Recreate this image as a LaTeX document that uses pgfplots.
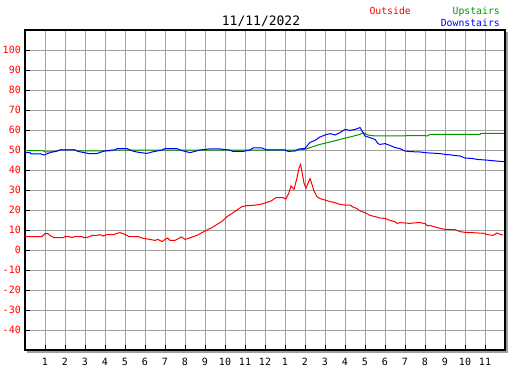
\documentclass[border=0pt]{standalone}
\usepackage{pgfplots}
\pgfplotsset{compat=1.18}
\usepackage{fontspec}
\setmainfont{DejaVu Sans Mono}
\definecolor{gridgray}{RGB}{160,160,160}
\definecolor{dgreen}{RGB}{0,150,0}
\begin{document}
\begin{tikzpicture}[x=1pt,y=1pt]
\useasboundingbox (0,0) rectangle (527,370);
\fill[gridgray] (27,17.5) rectangle (507.5,338);
\begin{axis}[at={(25pt,20pt)}, anchor=south west, scale only axis,
  width=480pt, height=320pt,
  xmin=0, xmax=24, ymin=-50, ymax=110,
  axis background/.style={fill=white},
  axis line style={black, line width=1.2pt},
  xtick={1,2,3,4,5,6,7,8,9,10,11,12,13,14,15,16,17,18,19,20,21,22,23},
  xticklabels={1,2,3,4,5,6,7,8,9,10,11,12,1,2,3,4,5,6,7,8,9,10,11},
  ytick={-40,-30,-20,-10,0,10,20,30,40,50,60,70,80,90,100},
  yticklabels={-40,-30,-20,-10,0,10,20,30,40,50,60,70,80,90,100},
  grid=major, major grid style={gridgray, line width=0.9pt},
  tick align=inside, xtick pos=bottom, ytick pos=left,
  major tick length=5pt, tick style={black, line width=0.9pt},
  yticklabel style={text=red, font=\fontsize{10}{12}\selectfont, inner sep=0pt, xshift=-4pt},
  xticklabel style={text=black, font=\fontsize{10}{12}\selectfont, inner sep=0pt, yshift=-8pt},
]
% Outside
\addplot[red, line width=1pt, no marks] coordinates {
(0,6.7)(0.85,6.7)(1,8.2)(1.15,8.2)(1.25,7.3)(1.45,6.2)(1.9,6.2)(2,6.7)(2.2,6.7)(2.35,6.2)(2.5,6.7)(2.85,6.7)(2.95,6.2)(3.15,6.4)(3.35,7.3)(3.6,7.3)(3.75,7.7)(3.9,7.0)(4.1,7.7)(4.45,7.7)(4.55,8.2)(4.75,8.7)(5,7.8)(5.2,6.7)(5.65,6.7)(5.85,6.0)(6,5.7)(6.25,5.3)(6.5,4.8)(6.65,5.3)(6.85,4.2)(7,5.3)(7.13,6.0)(7.25,4.8)(7.5,4.8)(7.67,5.7)(7.83,6.5)(8,5.3)(8.17,5.8)(8.35,6.5)(8.6,7.3)(8.85,8.7)(9.1,10)(9.35,11.2)(9.6,12.8)(9.85,14.3)(10.1,16.7)(10.35,18.3)(10.6,20)(10.85,21.7)(11.1,22.2)(11.4,22.3)(11.75,22.8)(12,23.5)(12.3,24.5)(12.55,26.2)(12.9,26.2)(13.05,25.5)(13.2,28.7)(13.3,32)(13.45,30.3)(13.6,36)(13.7,41)(13.78,42.8)(13.85,39)(13.95,33.5)(14.05,30.8)(14.15,33.5)(14.25,35.7)(14.35,32.8)(14.45,29.5)(14.6,26.7)(14.75,25.7)(15,25)(15.25,24.2)(15.5,23.7)(15.75,22.8)(16,22.5)(16.25,22.5)(16.4,21.5)(16.6,20.7)(16.75,19.5)(17,18.7)(17.25,17.3)(17.5,16.7)(17.75,16)(18,15.8)(18.25,14.8)(18.5,14.2)(18.6,13.3)(18.75,13.7)(19,13.5)(19.25,13.3)(19.5,13.6)(19.75,13.7)(20,13.2)(20.15,12)(20.25,12.3)(20.5,11.5)(20.75,10.8)(21,10.3)(21.5,10.2)(21.75,9.2)(22,8.8)(22.5,8.6)(23,8.3)(23.05,7.8)(23.4,7.3)(23.6,8.5)(23.75,7.8)(23.9,7.5)
};
% Upstairs
\addplot[dgreen, line width=1pt, no marks] coordinates {
(0,49.7)(0.9,49.7)(1,49)(1.4,49)(1.6,49.5)(1.75,50)(2.5,50)(2.65,49.5)(4.2,49.5)(4.4,49.9)(13.5,49.9)(14,50.3)(14.25,51.2)(14.75,52.8)(15.25,54)(15.75,55.3)(16.25,56.5)(16.75,57.8)(16.9,58.7)(17.15,57.5)(17.5,57)(20,57.2)(20.1,57)(20.25,57.8)(22.75,57.8)(22.8,58.3)(23.95,58.3)
};
% Downstairs
\addplot[blue, line width=1pt, no marks] coordinates {
(0,48.7)(0.25,48.7)(0.3,48)(0.8,48)(0.95,47.5)(1.15,48.3)(1.35,49)(1.6,49.5)(1.75,50)(2.5,50)(2.65,49.3)(2.95,48.7)(3.2,48.2)(3.6,48.2)(3.75,48.8)(3.9,49.3)(4.15,49.8)(4.5,50)(4.6,50.7)(5.1,50.7)(5.25,50)(5.45,49.3)(5.7,48.8)(6.1,48.3)(6.35,49)(6.6,49.5)(6.85,50)(7,50.7)(7.6,50.7)(7.75,50)(8,49.3)(8.25,48.7)(8.5,49.3)(8.75,50)(9.2,50.5)(9.75,50.5)(10.2,50)(10.4,49.3)(10.9,49.3)(11.25,50)(11.4,51)(11.85,51)(12.1,50)(13,50)(13.15,49.3)(13.5,49.5)(13.7,50.5)(14,50.8)(14.25,53.8)(14.5,54.8)(14.75,56.5)(15,57.5)(15.25,58.2)(15.5,57.5)(15.75,58.7)(16,60.3)(16.25,59.8)(16.5,60.3)(16.75,61.2)(16.9,58.7)(17,57)(17.25,56.2)(17.5,55.3)(17.65,53.2)(17.75,52.8)(18,53.2)(18.25,52.3)(18.5,51.2)(18.75,50.7)(19,49.5)(19.25,49.2)(19.75,49)(20,48.7)(20.25,48.5)(20.75,48.2)(21,47.8)(21.25,47.6)(21.5,47.2)(21.75,47)(22,46)(22.4,45.7)(22.6,45.3)(23,45)(23.25,44.8)(23.75,44.3)(23.95,44.2)
};
\end{axis}
\node[anchor=base, font=\fontsize{13}{15}\selectfont, inner sep=0pt] at (261,344.3) {11/11/2022};
\node[anchor=base west, text=red, font=\fontsize{9.8}{12}\selectfont, inner sep=0pt] at (369.3,355) {Outside};
\node[anchor=base east, text=dgreen, font=\fontsize{9.8}{12}\selectfont, inner sep=0pt] at (500,355) {Upstairs};
\node[anchor=base east, text=blue, font=\fontsize{9.8}{12}\selectfont, inner sep=0pt] at (500,343) {Downstairs};
\end{tikzpicture}
\end{document}
